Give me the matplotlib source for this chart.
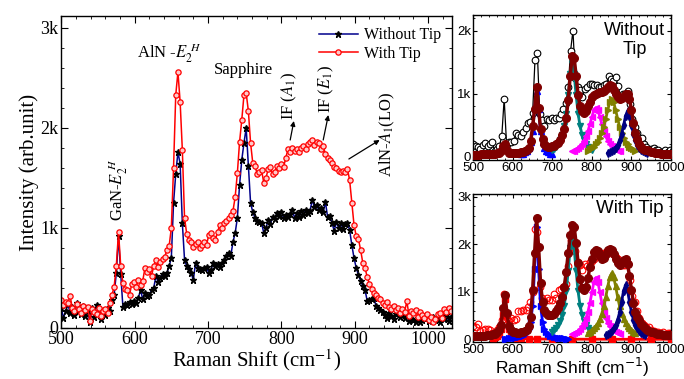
import numpy as np
import matplotlib
matplotlib.use('Agg')
import matplotlib.pyplot as plt
from matplotlib.ticker import MultipleLocator, FuncFormatter

plt.rcParams.update({
    'font.family': 'Liberation Serif',
    'mathtext.fontset': 'stix',
    'xtick.direction': 'in', 'ytick.direction': 'in',
    'xtick.top': True, 'ytick.right': True,
    'axes.linewidth': 1.0,
})

# --- main spectra (Raman shift 500..1031, step 3 cm-1) ---
shift = np.arange(500, 1032, 3)

without_tip = [
    200, 100, 170, 240, 150, 210, 130, 250, 180, 140, 220, 120, 170, 60, 200, 110,
    230, 150, 90, 180, 130, 200, 170, 280, 330, 550, 920, 540, 210, 240, 230, 260,
    240, 270, 250, 300, 380, 290, 350, 320, 330, 380, 400, 520, 460, 500, 540, 520,
    550, 620, 700, 1250, 1540, 1760, 1640, 1050, 680, 620, 590, 550, 480, 650, 600, 590,
    580, 600, 610, 550, 580, 650, 620, 640, 610, 650, 680, 720, 750, 720, 860, 950,
    1100, 1430, 1680, 1850, 2000, 1620, 1250, 1160, 1100, 1070, 1060, 1050, 950, 1000, 1080, 1040,
    1110, 1090, 1150, 1120, 1160, 1100, 1130, 1110, 1140, 1180, 1100, 1150, 1110, 1170, 1130, 1180,
    1150, 1170, 1280, 1210, 1230, 1180, 1200, 1160, 1260, 1110, 1120, 1050, 970, 1060, 1000, 1050,
    990, 1040, 1050, 980, 830, 700, 600, 530, 470, 420, 380, 270, 280, 290, 300, 220,
    200, 180, 160, 130, 100, 150, 120, 90, 140, 150, 110, 130, 100, 120, 70, 90,
    80, 60, 100, 60, 80, 120, 100, 70, 90, 110, 80, 100, 60, 120, 90, 130,
    70, 110]

with_tip = [
    280, 230, 260, 250, 320, 200, 170, 240, 190, 150, 220, 180, 210, 70, 190, 160,
    140, 200, 120, 170, 190, 150, 250, 330, 410, 620, 960, 620, 450, 390, 380, 330,
    440, 460, 410, 480, 430, 470, 600, 560, 590, 520, 620, 680, 610, 660, 690, 710,
    780, 820, 1000, 1600, 2330, 2560, 2260, 1780, 1100, 940, 880, 860, 810, 840, 860, 800,
    830, 860, 830, 930, 950, 900, 880, 960, 1030, 1000, 1050, 1070, 1100, 1130, 1170, 1310,
    1550, 1860, 2080, 2330, 2350, 2170, 1850, 1650, 1620, 1540, 1560, 1580, 1450, 1500, 1590, 1610,
    1540, 1560, 1620, 1600, 1640, 1610, 1700, 1790, 1760, 1800, 1770, 1790, 1760, 1800, 1820, 1790,
    1840, 1860, 1880, 1830, 1860, 1850, 1790, 1820, 1740, 1700, 1680, 1650, 1610, 1600, 1570, 1560,
    1570, 1560, 1590, 1480, 1250, 1030, 920, 890, 780, 650, 600, 510, 440, 390, 350, 330,
    300, 290, 250, 230, 260, 210, 190, 220, 180, 200, 150, 190, 160, 270, 120, 170,
    150, 180, 110, 160, 130, 100, 140, 80, 110, 60, 90, 140, 150, 100, 190, 160,
    200, 170]

# --- fitted curves for the insets (grid 500..1000, step 5) ---
fit_x = np.arange(500, 1001, 5)

fit_without = [
    35, 35, 36, 36, 37, 38, 38, 39, 40, 42, 45, 50, 55, 65, 95, 165, 210, 110, 65, 55,
    55, 57, 60, 65, 70, 80, 95, 110, 140, 250, 480, 760, 1100, 780, 440, 280, 200, 170, 160, 160,
    165, 175, 195, 225, 270, 340, 440, 620, 900, 1280, 1600, 1570, 1280, 980, 810, 720, 700, 730, 800, 870,
    940, 980, 995, 1010, 1020, 1030, 1050, 1080, 1110, 1130, 1115, 1060, 990, 940, 920, 930, 970, 995, 990, 920,
    740, 540, 380, 275, 200, 160, 130, 112, 100, 88, 80, 72, 66, 60, 56, 52, 49, 46, 44, 42,
    40]

fit_with = [
    70, 70, 72, 73, 75, 77, 80, 83, 88, 95, 105, 120, 150, 200, 300, 650, 930, 560, 280, 190,
    160, 145, 140, 140, 145, 155, 170, 200, 270, 470, 1040, 1810, 2560, 1950, 1180, 780, 620, 550, 515, 505,
    510, 540, 590, 660, 760, 900, 1110, 1420, 1810, 2190, 2400, 2370, 2020, 1600, 1260, 1080, 1040, 1110, 1300, 1520,
    1700, 1840, 1890, 1850, 1760, 1690, 1710, 1790, 1870, 1910, 1890, 1800, 1700, 1610, 1570, 1600, 1660, 1680, 1580, 1340,
    1040, 770, 580, 470, 400, 330, 270, 230, 200, 180, 160, 145, 130, 120, 110, 103, 97, 92, 88, 85,
    82]

# fitted components, each with its own shift list
blue_x1 = np.arange(620, 701, 5)
blue_y1 = [40, 52, 70, 98, 145, 232, 410, 755, 1050, 755, 410, 232, 145, 98, 70, 52, 40]
teal_x1 = np.arange(700, 801, 5)
teal_y1 = [107, 129, 160, 203, 263, 351, 484, 685, 973, 1304, 1470, 1304, 973, 685, 484, 351,
           263, 203, 160, 129, 107]
mag_x1 = np.arange(750, 871, 5)
mag_y1 = [85, 99, 117, 139, 168, 207, 257, 323, 409, 516, 636, 738, 780, 738, 636, 516, 409,
          323, 257, 207, 168, 139, 117, 99, 85]
olive_x1 = np.arange(790, 911, 5)
olive_y1 = [99, 116, 137, 162, 197, 241, 300, 377, 477, 602, 742, 861, 910, 861, 742, 602, 477,
            377, 300, 241, 197, 162, 137, 116, 99]
navy_x1 = np.arange(840, 941, 5)
navy_y1 = [60, 72, 89, 112, 144, 191, 259, 360, 498, 648, 720, 648, 498, 360, 259, 191, 144,
           112, 89, 72, 60]

red_x2 = [550, 555, 560, 565, 570, 575, 580, 585, 590, 595, 600, 605, 610, 620, 640, 660,
          700, 750, 800, 850, 900, 950, 1000]
red_y2 = [31, 46, 71, 117, 225, 502, 850, 502, 225, 117, 71, 46, 31, 22, 12, 8, 5, 3, 2, 2, 1, 1, 1]
blue_x2 = np.arange(580, 741, 5)
blue_y2 = [15, 17, 20, 23, 27, 33, 39, 48, 62, 78, 107, 149, 225, 374, 704, 1488, 2370, 1488,
           704, 374, 225, 149, 107, 78, 62, 48, 39, 33, 27, 23, 20, 17, 15]
teal_x2 = np.arange(700, 801, 5)
teal_y2 = [158, 190, 235, 298, 387, 516, 711, 1007, 1430, 1916, 2160, 1916, 1430, 1007, 711,
           516, 387, 298, 235, 190, 158]
mag_x2 = np.arange(750, 871, 5)
mag_y2 = [108, 126, 150, 179, 218, 272, 344, 443, 581, 767, 993, 1206, 1300, 1206, 993, 767,
          581, 443, 344, 272, 218, 179, 150, 126, 108]
olive_x2 = np.arange(790, 911, 5)
olive_y2 = [139, 163, 192, 229, 278, 342, 428, 542, 695, 890, 1112, 1308, 1390, 1308, 1112, 890,
            695, 542, 428, 342, 278, 229, 192, 163, 139]
navy_x2 = np.arange(835, 936, 5)
navy_y2 = [95, 114, 140, 177, 228, 302, 410, 570, 789, 1026, 1140, 1026, 789, 570, 410, 302,
           228, 177, 140, 114, 95]

kfmt = FuncFormatter(lambda v, p: '0' if v == 0 else f'{int(round(v / 1000))}k')

fig = plt.figure(figsize=(6.84, 3.79), dpi=100)

# --- MAIN PLOT ---
ax = fig.add_axes([0.0896, 0.1346, 0.5717, 0.8232])
ax.plot(shift, without_tip, color='#00008B', lw=1.1, marker='*', ms=4.5,
        mfc='k', mec='k', label='Without Tip')
ax.plot(shift, with_tip, color='#FF0000', lw=1.1, marker='o', ms=3.8,
        mfc='#FFC8C8', mec='#FF0000', mew=0.9, label='With Tip')
ax.set_xlim(500, 1033)
ax.set_ylim(0, 3120)
ax.xaxis.set_major_locator(MultipleLocator(100))
ax.xaxis.set_minor_locator(MultipleLocator(20))
ax.yaxis.set_major_locator(MultipleLocator(1000))
ax.yaxis.set_minor_locator(MultipleLocator(200))
ax.yaxis.set_major_formatter(kfmt)
ax.tick_params(which='major', length=5, labelsize=13, pad=2)
ax.tick_params(which='minor', length=2.5, top=True, right=True)
ax.set_xlabel('Raman Shift (cm$^{-1}$)', fontsize=15, labelpad=0)
ax.set_ylabel('Intensity (arb.unit)', fontsize=15, labelpad=1)

leg = ax.legend(loc='upper right', bbox_to_anchor=(1.0, 1.0), frameon=False, fontsize=11.5,
                handlelength=2.4, handletextpad=0.4, labelspacing=0.15, borderaxespad=0.3)

ax.text(577, 1070, r'GaN-$E_2^{\ H}$', rotation=90, ha='center', va='bottom', fontsize=12)
ax.text(603, 2700, r'AlN -$E_2^{\ H}$', ha='left', va='baseline', fontsize=12)
ax.text(708, 2540, 'Sapphire', ha='left', va='baseline', fontsize=12)
ax.text(811, 2080, r'IF ($A_1$)', rotation=90, ha='center', va='bottom', fontsize=12)
ax.text(862, 2150, r'IF ($E_1$)', rotation=90, ha='center', va='bottom', fontsize=12)
ax.text(944, 1510, r'AlN-$A_1$(LO)', rotation=90, ha='center', va='bottom', fontsize=12)

arrow = dict(arrowstyle='-|>', color='k', lw=0.9, mutation_scale=7, shrinkA=0, shrinkB=0)
ax.annotate('', xy=(817, 2070), xytext=(812, 1880), arrowprops=arrow)
ax.annotate('', xy=(864, 2130), xytext=(857, 1880), arrowprops=arrow)
ax.annotate('', xy=(934, 1880), xytext=(892, 1690), arrowprops=arrow)


def style_inset(a, ymax, ticks):
    a.set_xlim(500, 1000)
    a.set_ylim(-50, ymax)
    a.xaxis.set_major_locator(MultipleLocator(100))
    a.xaxis.set_minor_locator(MultipleLocator(20))
    a.set_yticks(ticks)
    a.yaxis.set_minor_locator(MultipleLocator(200))
    a.yaxis.set_major_formatter(kfmt)
    a.tick_params(which='major', length=3, labelsize=9.5, pad=1.5,
                  labelfontfamily='Liberation Sans')
    a.tick_params(which='minor', length=1.5, top=True, right=True)


def draw_components(a, comps, total):
    for cx, cy, col, mk in comps:
        a.plot(cx, cy, color=col, lw=2, marker=mk, ms=4, mec=col, mfc=col, zorder=3)
    a.plot(fit_x, total, color='#800000', lw=2.5, marker='o', ms=5.5, mfc='#800000',
           mec='#800000', zorder=4)


# --- INSET: WITHOUT TIP ---
ax1 = fig.add_axes([0.692, 0.578, 0.289, 0.383])
ax1.plot(shift[::2], without_tip[::2], color='k', lw=0.9, marker='o', ms=4.8,
         mfc='white', mec='k', mew=0.8, zorder=2)
draw_components(ax1, [
    (blue_x1, blue_y1, '#0000FF', '^'),
    (teal_x1, teal_y1, '#008080', 'v'),
    (mag_x1, mag_y1, '#FF00FF', '<'),
    (olive_x1, olive_y1, '#808000', '>'),
    (navy_x1, navy_y1, '#000080', 'd'),
], fit_without)
style_inset(ax1, 2250, [0, 1000, 2000])
ax1.text(0.97, 0.95, 'Without\nTip', transform=ax1.transAxes, ha='right', va='top',
         fontsize=13, family='Liberation Sans', multialignment='center', linespacing=1.15)

# --- INSET: WITH TIP ---
ax2 = fig.add_axes([0.692, 0.0984, 0.289, 0.390])
ax2.plot(shift[::2], with_tip[::2], ls='none', marker='o', ms=4.8,
         mfc='none', mec='#FF0000', mew=0.8, zorder=2)
draw_components(ax2, [
    (red_x2, red_y2, '#FF0000', 's'),
    (blue_x2, blue_y2, '#0000FF', '>'),
    (teal_x2, teal_y2, '#008080', 'v'),
    (mag_x2, mag_y2, '#FF00FF', '<'),
    (olive_x2, olive_y2, '#808000', '^'),
    (navy_x2, navy_y2, '#000080', 'd'),
], fit_with)
style_inset(ax2, 3060, [0, 1000, 2000, 3000])
ax2.text(0.96, 0.96, 'With Tip', transform=ax2.transAxes, ha='right', va='top',
         fontsize=13.5, family='Liberation Sans')
ax2.set_xlabel('Raman Shift (cm$^{-1}$)', fontsize=12.5, family='Liberation Sans',
               math_fontfamily='dejavusans', labelpad=0)

fig.savefig('out.png', dpi=100)
